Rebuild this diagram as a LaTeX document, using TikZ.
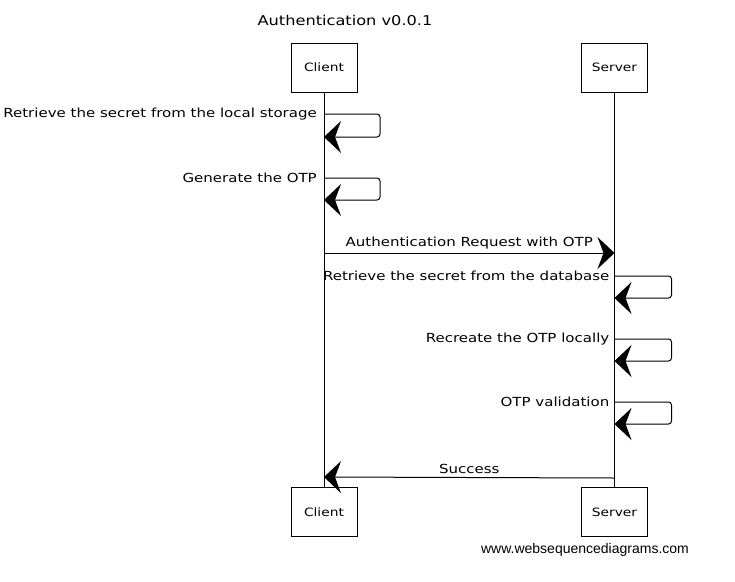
\documentclass[tikz,border=0pt]{standalone}
\usepackage{fontspec}
\setmainfont{DejaVu Sans}[FakeStretch=1.2]
\newfontfamily\wsdfont{Liberation Sans}
\usetikzlibrary{arrows.meta,calc}

\tikzset{
	actor/.style={draw, line width=0.9pt, minimum width=66pt, minimum height=49pt, font=\fontsize{11.5}{13}\selectfont},
	life/.style={line width=0.9pt},
	msg/.style={line width=1pt, rounded corners=3pt, -{Stealth[length=17pt,width=32pt,inset=6pt]}},
	lbl/.style={font=\fontsize{12.5}{14}\selectfont, inner sep=1pt},
}

\begin{document}
\begin{tikzpicture}[x=1pt,y=-1pt]
		\useasboundingbox (0,0) rectangle (735,581);

		\node [font=\fontsize{13.5}{16}\selectfont] (title) at (345,20) {Authentication v0.0.1};

		\node [actor] (client) at (324,67.5) {Client};
		\node [actor] (server) at (614.5,67.5) {Server};
		\node [actor] (clientb) at (324,512) {Client};
		\node [actor] (serverb) at (614.5,512) {Server};

		\draw [life] (client) -- (clientb);
		\draw [life] (server) -- (serverb);

		% points on the lifelines
		\coordinate (c1) at (324,114);
		\coordinate (c1e) at (324,137);
		\coordinate (c2) at (324,178);
		\coordinate (c2e) at (324,200);
		\coordinate (req) at (324,253);
		\coordinate (reqe) at (614.5,253);
		\coordinate (s1) at (614.5,276);
		\coordinate (s1e) at (614.5,298);
		\coordinate (s2) at (614.5,339);
		\coordinate (s2e) at (614.5,361);
		\coordinate (s3) at (614.5,402);
		\coordinate (s3e) at (614.5,424);
		\coordinate (ok) at (614.5,478);
		\coordinate (oke) at (324,477);

		\draw [msg] (c1) -- ++(56,0) |- (c1e);
		\draw [msg] (c2) -- ++(56,0) |- (c2e);
		\draw [msg] (req) -- (reqe);
		\draw [msg] (s1) -- ++(57,0) |- (s1e);
		\draw [msg] (s2) -- ++(57,0) |- (s2e);
		\draw [msg] (s3) -- ++(57,0) |- (s3e);
		\draw [msg] (ok) -- (oke);

		\node [lbl, anchor=east, xshift=-6pt] (t1) at (c1) {Retrieve the secret from the local storage};
		\node [lbl, anchor=east, xshift=-6pt] (t2) at (c2) {Generate the OTP};
		\node [lbl, anchor=south, yshift=3pt] (t3) at ($(req)!0.5!(reqe)$) {Authentication Request with OTP};
		\node [lbl, anchor=east, xshift=-4pt] (t4) at (s1) {Retrieve the secret from the database};
		\node [lbl, anchor=east, xshift=-4pt] (t5) at (s2) {Recreate the OTP locally};
		\node [lbl, anchor=east, xshift=-4pt] (t6) at (s3) {OTP validation};
		\node [lbl, anchor=south, yshift=3pt] (t7) at ($(ok)!0.5!(oke)$) {Success};

		\node [font=\wsdfont\fontsize{14}{16}\selectfont] (wsd) at (585,550) {www.websequencediagrams.com};
	\end{tikzpicture}
\end{document}
